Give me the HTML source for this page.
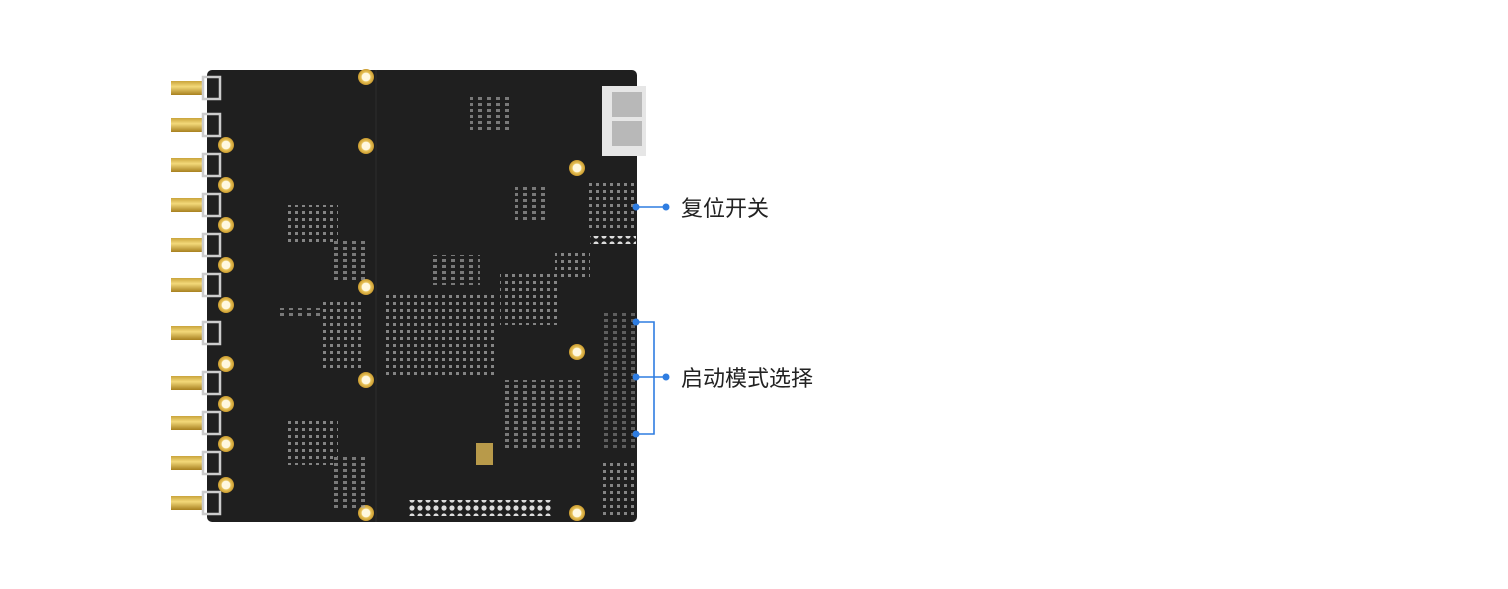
<!DOCTYPE html>
<html><head><meta charset="utf-8"><style>
html,body{margin:0;padding:0;background:#fff;}
body{width:1508px;height:589px;overflow:hidden;position:relative;}
.lbl{position:absolute;font-family:"Liberation Sans","Noto Sans CJK SC",sans-serif;font-size:22px;color:#222;}
</style></head><body>
<svg width="1508" height="589" style="position:absolute;left:0;top:0">
<defs>
<pattern id="cmp" width="7" height="7" patternUnits="userSpaceOnUse"><rect x="1" y="1" width="3" height="3" fill="#bbb"/></pattern>
<pattern id="cmp2" width="9" height="6" patternUnits="userSpaceOnUse"><rect x="1" y="1" width="4" height="3" fill="#aaa"/></pattern>
<pattern id="pins" width="8" height="8" patternUnits="userSpaceOnUse"><circle cx="4" cy="4" r="2.6" fill="#ddd"/></pattern>
<radialGradient id="gold"><stop offset="0.5" stop-color="#fff8e0"/><stop offset="0.6" stop-color="#e8c35a"/><stop offset="1" stop-color="#c99a2e"/></radialGradient>
<linearGradient id="sma" x1="0" y1="0" x2="0" y2="1"><stop offset="0" stop-color="#c9a33a"/><stop offset="0.4" stop-color="#f3d97a"/><stop offset="1" stop-color="#a8801f"/></linearGradient>
</defs>
<rect x="207" y="70" width="430" height="452" rx="5" fill="#1f1f1f"/>
<rect x="375" y="70" width="2" height="452" fill="#262626"/>
<rect x="602" y="86" width="44" height="70" fill="#e6e6e6"/>
<rect x="612" y="92" width="30" height="25" fill="#b8b8b8"/>
<rect x="612" y="121" width="30" height="25" fill="#b8b8b8"/>
<g>
<g transform="translate(0,88)"><rect x="171" y="-7" width="33" height="14" fill="url(#sma)"/><rect x="203" y="-11" width="17" height="22" fill="none" stroke="#ccc" stroke-width="2.5"/></g>
<g transform="translate(0,125)"><rect x="171" y="-7" width="33" height="14" fill="url(#sma)"/><rect x="203" y="-11" width="17" height="22" fill="none" stroke="#ccc" stroke-width="2.5"/></g>
<g transform="translate(0,165)"><rect x="171" y="-7" width="33" height="14" fill="url(#sma)"/><rect x="203" y="-11" width="17" height="22" fill="none" stroke="#ccc" stroke-width="2.5"/></g>
<g transform="translate(0,205)"><rect x="171" y="-7" width="33" height="14" fill="url(#sma)"/><rect x="203" y="-11" width="17" height="22" fill="none" stroke="#ccc" stroke-width="2.5"/></g>
<g transform="translate(0,245)"><rect x="171" y="-7" width="33" height="14" fill="url(#sma)"/><rect x="203" y="-11" width="17" height="22" fill="none" stroke="#ccc" stroke-width="2.5"/></g>
<g transform="translate(0,285)"><rect x="171" y="-7" width="33" height="14" fill="url(#sma)"/><rect x="203" y="-11" width="17" height="22" fill="none" stroke="#ccc" stroke-width="2.5"/></g>
<g transform="translate(0,333)"><rect x="171" y="-7" width="33" height="14" fill="url(#sma)"/><rect x="203" y="-11" width="17" height="22" fill="none" stroke="#ccc" stroke-width="2.5"/></g>
<g transform="translate(0,383)"><rect x="171" y="-7" width="33" height="14" fill="url(#sma)"/><rect x="203" y="-11" width="17" height="22" fill="none" stroke="#ccc" stroke-width="2.5"/></g>
<g transform="translate(0,423)"><rect x="171" y="-7" width="33" height="14" fill="url(#sma)"/><rect x="203" y="-11" width="17" height="22" fill="none" stroke="#ccc" stroke-width="2.5"/></g>
<g transform="translate(0,463)"><rect x="171" y="-7" width="33" height="14" fill="url(#sma)"/><rect x="203" y="-11" width="17" height="22" fill="none" stroke="#ccc" stroke-width="2.5"/></g>
<g transform="translate(0,503)"><rect x="171" y="-7" width="33" height="14" fill="url(#sma)"/><rect x="203" y="-11" width="17" height="22" fill="none" stroke="#ccc" stroke-width="2.5"/></g>
</g>
<g fill="url(#gold)">
<circle cx="226" cy="145" r="8"/><circle cx="226" cy="185" r="8"/><circle cx="226" cy="225" r="8"/><circle cx="226" cy="265" r="8"/><circle cx="226" cy="305" r="8"/><circle cx="226" cy="364" r="8"/><circle cx="226" cy="404" r="8"/><circle cx="226" cy="444" r="8"/><circle cx="226" cy="485" r="8"/>
<circle cx="366" cy="77" r="8"/><circle cx="366" cy="146" r="8"/><circle cx="366" cy="287" r="8"/><circle cx="366" cy="380" r="8"/><circle cx="366" cy="513" r="8"/>
<circle cx="577" cy="168" r="8"/><circle cx="577" cy="352" r="8"/><circle cx="577" cy="513" r="8"/>
</g>
<g opacity="0.65">
<rect x="288" y="205" width="50" height="40" fill="url(#cmp)"/>
<rect x="330" y="240" width="35" height="40" fill="url(#cmp2)"/>
<rect x="320" y="300" width="45" height="70" fill="url(#cmp)"/>
<rect x="275" y="308" width="50" height="10" fill="url(#cmp2)"/>
<rect x="385" y="295" width="110" height="80" fill="url(#cmp)"/>
<rect x="430" y="255" width="50" height="30" fill="url(#cmp2)"/>
<rect x="500" y="270" width="60" height="55" fill="url(#cmp)"/>
<rect x="515" y="185" width="35" height="35" fill="url(#cmp2)"/>
<rect x="555" y="250" width="35" height="30" fill="url(#cmp)"/>
<rect x="585" y="180" width="50" height="50" fill="url(#cmp)"/>
<rect x="470" y="95" width="40" height="35" fill="url(#cmp2)"/>
<rect x="288" y="420" width="50" height="45" fill="url(#cmp)"/>
<rect x="330" y="455" width="35" height="55" fill="url(#cmp2)"/>
<rect x="500" y="380" width="80" height="70" fill="url(#cmp2)"/>
<rect x="600" y="460" width="35" height="55" fill="url(#cmp)"/>
<rect x="600" y="310" width="35" height="140" fill="url(#cmp2)" opacity="0.7"/>
</g>
<rect x="476" y="443" width="17" height="22" fill="#b89a4a"/>
<rect x="407" y="500" width="146" height="16" fill="url(#pins)"/>
<rect x="590" y="236" width="46" height="8" fill="url(#pins)"/>
<g stroke="#2f7de1" stroke-width="1.6" fill="none">
<line x1="636" y1="207" x2="666" y2="207"/>
<polyline points="636,322 654,322 654,434 636,434"/>
<line x1="636" y1="377" x2="666" y2="377"/>
</g>
<g fill="#2f7de1">
<circle cx="636" cy="207" r="3.5"/><circle cx="666" cy="207" r="3.5"/>
<circle cx="636" cy="322" r="3.5"/><circle cx="636" cy="377" r="3.5"/><circle cx="636" cy="434" r="3.5"/><circle cx="666" cy="377" r="3.5"/>
</g>
</svg>
<div class="lbl" style="left:681px;top:191px;">复位开关</div>
<div class="lbl" style="left:681px;top:361px;">启动模式选择</div>
</body></html>
